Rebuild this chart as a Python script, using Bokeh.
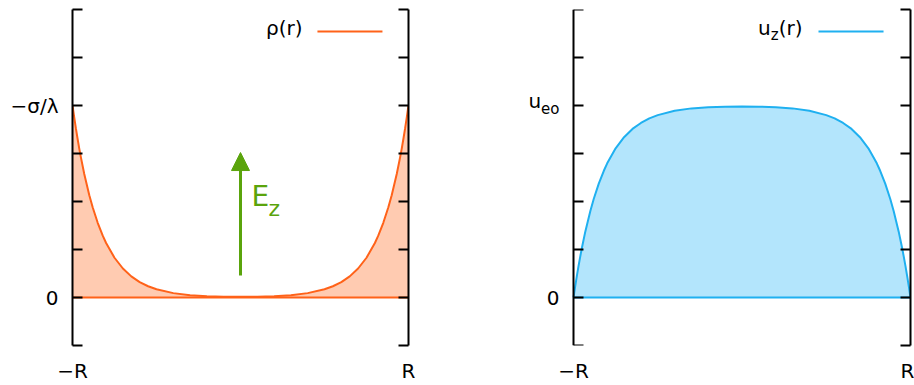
from bokeh.plotting import figure
from bokeh.layouts import row
from bokeh.models import (Range1d, FixedTicker, LinearAxis, Label,
                          Arrow, NormalHead)
from bokeh.embed import file_html
from bokeh.resources import INLINE

# radial position r / R across the channel
r = [-1.0, -0.99, -0.98, -0.97, -0.96, -0.95, -0.93, -0.9, -0.88, -0.85, -0.82,
     -0.8, -0.75, -0.7, -0.65, -0.6, -0.55, -0.5, -0.4, -0.3, -0.2, -0.1, 0.0,
     0.1, 0.2, 0.3, 0.4, 0.5, 0.55, 0.6, 0.65, 0.7, 0.75, 0.8, 0.82, 0.85,
     0.88, 0.9, 0.93, 0.95, 0.96, 0.97, 0.98, 0.99, 1.0]

# charge density, in units of -sigma/lambda
rho = [1.0, 0.939, 0.882, 0.828, 0.777, 0.730, 0.643, 0.533, 0.470, 0.389, 0.322,
       0.284, 0.207, 0.151, 0.110, 0.080, 0.0587, 0.043, 0.0228, 0.0122, 0.0070,
       0.0044, 0.0037,
       0.0044, 0.0070, 0.0122, 0.0228, 0.043, 0.0587, 0.080, 0.110, 0.151, 0.207,
       0.284, 0.322, 0.389, 0.470, 0.533, 0.643, 0.730, 0.777, 0.828, 0.882,
       0.939, 1.0]

# axial velocity, in units of u_eo
uz = [0.0, 0.058, 0.113, 0.165, 0.213, 0.259, 0.343, 0.451, 0.513, 0.593, 0.660,
      0.699, 0.777, 0.835, 0.878, 0.909, 0.933, 0.950, 0.973, 0.985, 0.991,
      0.994, 0.995,
      0.994, 0.991, 0.985, 0.973, 0.950, 0.933, 0.909, 0.878, 0.835, 0.777,
      0.699, 0.660, 0.593, 0.513, 0.451, 0.343, 0.259, 0.213, 0.165, 0.113,
      0.058, 0.0]

x_ticks = [-1, 1]
x_tick_labels = ["\u2212R", "R"]
y_ticks = [-0.25, 0.0, 0.25, 0.5, 0.75, 1.0, 1.25, 1.5]

FONT = "DejaVu Sans"
ORANGE, ORANGE_FILL = "#ff6219", "#ffcbb1"
BLUE, BLUE_FILL = "#1fb0f0", "#b3e5fc"
GREEN = "#5aa40c"


def style_y(ax, labels):
    ax.ticker = FixedTicker(ticks=y_ticks)
    ax.major_label_overrides = {t: labels.get(t, "") for t in y_ticks}
    ax.axis_line_width = 2
    ax.axis_line_color = "black"
    ax.major_tick_line_width = 2
    ax.major_tick_line_color = "black"
    ax.major_tick_in = 10
    ax.major_tick_out = 0
    ax.minor_tick_line_color = None
    ax.major_label_standoff = 14
    ax.major_label_text_font = FONT
    ax.major_label_text_font_size = "20px"
    ax.major_label_text_color = "black"


def make_panel(ys, line_color, fill_color, y_labels, x_start, border_left,
               border_right, frame_w, pinned_axis=False):
    p = figure(frame_width=frame_w, frame_height=336,
               x_range=Range1d(x_start, 1), y_range=Range1d(-0.25, 1.5),
               min_border_left=border_left, min_border_right=border_right,
               min_border_top=9, min_border_bottom=40,
               output_backend="svg", toolbar_location=None)
    p.outline_line_color = None
    p.xgrid.visible = False
    p.ygrid.visible = False
    p.background_fill_color = "white"
    p.border_fill_color = "white"

    # x axis: labels only
    xa = p.xaxis[0]
    xa.ticker = FixedTicker(ticks=x_ticks)
    xa.major_label_overrides = {t: s for t, s in zip(x_ticks, x_tick_labels)}
    xa.axis_line_color = None
    xa.major_tick_line_color = None
    xa.minor_tick_line_color = None
    xa.major_label_standoff = 7
    xa.major_label_text_font = FONT
    xa.major_label_text_font_size = "20px"
    xa.major_label_text_color = "black"

    ya = p.yaxis[0]
    style_y(ya, y_labels)
    if pinned_axis:
        # left border sits at r = -R, leaving room in the frame for a tick label
        ya.fixed_location = -1
    ra = LinearAxis()
    style_y(ra, {})
    ra.major_label_standoff = 0
    ra.major_label_text_font_size = "0px"
    p.add_layout(ra, "right")

    p.varea(x=r, y1=0, y2=ys, fill_color=fill_color)
    p.segment(x0=[r[0]], y0=[0], x1=[r[-1]], y1=[0],
              line_color=line_color, line_width=2)
    p.line(r, ys, line_color=line_color, line_width=2)
    return p


# ---- left panel: charge density
p1 = make_panel(rho, ORANGE, ORANGE_FILL, {0.0: "0", 1.0: "\u2212\u03c3/\u03bb"},
                -1, 72, 52, 336)

# legend key: text followed by a line sample
p1.add_layout(Label(x=0.369, y=1.339, text="\u03c1(r)", text_align="right",
                    text_font=FONT, text_font_size="20px", text_color="black"))
p1.segment(x0=[0.458], y0=[1.385], x1=[0.845], y1=[1.385],
           line_color=ORANGE, line_width=2)

# applied field arrow
p1.add_layout(Arrow(end=NormalHead(size=18, fill_color=GREEN, line_color=GREEN),
                    x_start=0, y_start=0.115, x_end=0, y_end=0.755,
                    line_color=GREEN, line_width=3))
p1.add_layout(Label(x=0, y=0.44, x_offset=11, text="E", text_font=FONT,
                    text_font_size="28px", text_color=GREEN))
p1.add_layout(Label(x=0, y=0.44, x_offset=28, y_offset=-8, text="z",
                    text_font=FONT, text_font_size="22px", text_color=GREEN))

# ---- right panel: electro-osmotic velocity
p2 = make_panel(uz, BLUE, BLUE_FILL, {0.0: "0"}, -1.6706, 0, 4, 450,
                pinned_axis=True)

# y tick label u_eo
p2.add_layout(Label(x=-1, y=1.0, x_offset=-14, y_offset=-12, text="eo",
                    text_align="right", text_font=FONT, text_font_size="15px",
                    text_color="black"))
p2.add_layout(Label(x=-1, y=1.0, x_offset=-32.4, y_offset=-7, text="u",
                    text_align="right", text_font=FONT, text_font_size="20px",
                    text_color="black"))

# legend key u_z(r)
p2.add_layout(Label(x=0.359, y=1.339, text="(r)", text_align="right",
                    text_font=FONT, text_font_size="20px", text_color="black"))
p2.add_layout(Label(x=0.359, y=1.339, x_offset=-23.8, y_offset=-3.5, text="z",
                    text_align="right", text_font=FONT, text_font_size="15px",
                    text_color="black"))
p2.add_layout(Label(x=0.359, y=1.339, x_offset=-31.7, text="u", text_align="right",
                    text_font=FONT, text_font_size="20px", text_color="black"))
p2.segment(x0=[0.454], y0=[1.385], x1=[0.840], y1=[1.385],
           line_color=BLUE, line_width=2)

layout = row(p1, p2)
open("out.html", "w").write(file_html(layout, INLINE))
